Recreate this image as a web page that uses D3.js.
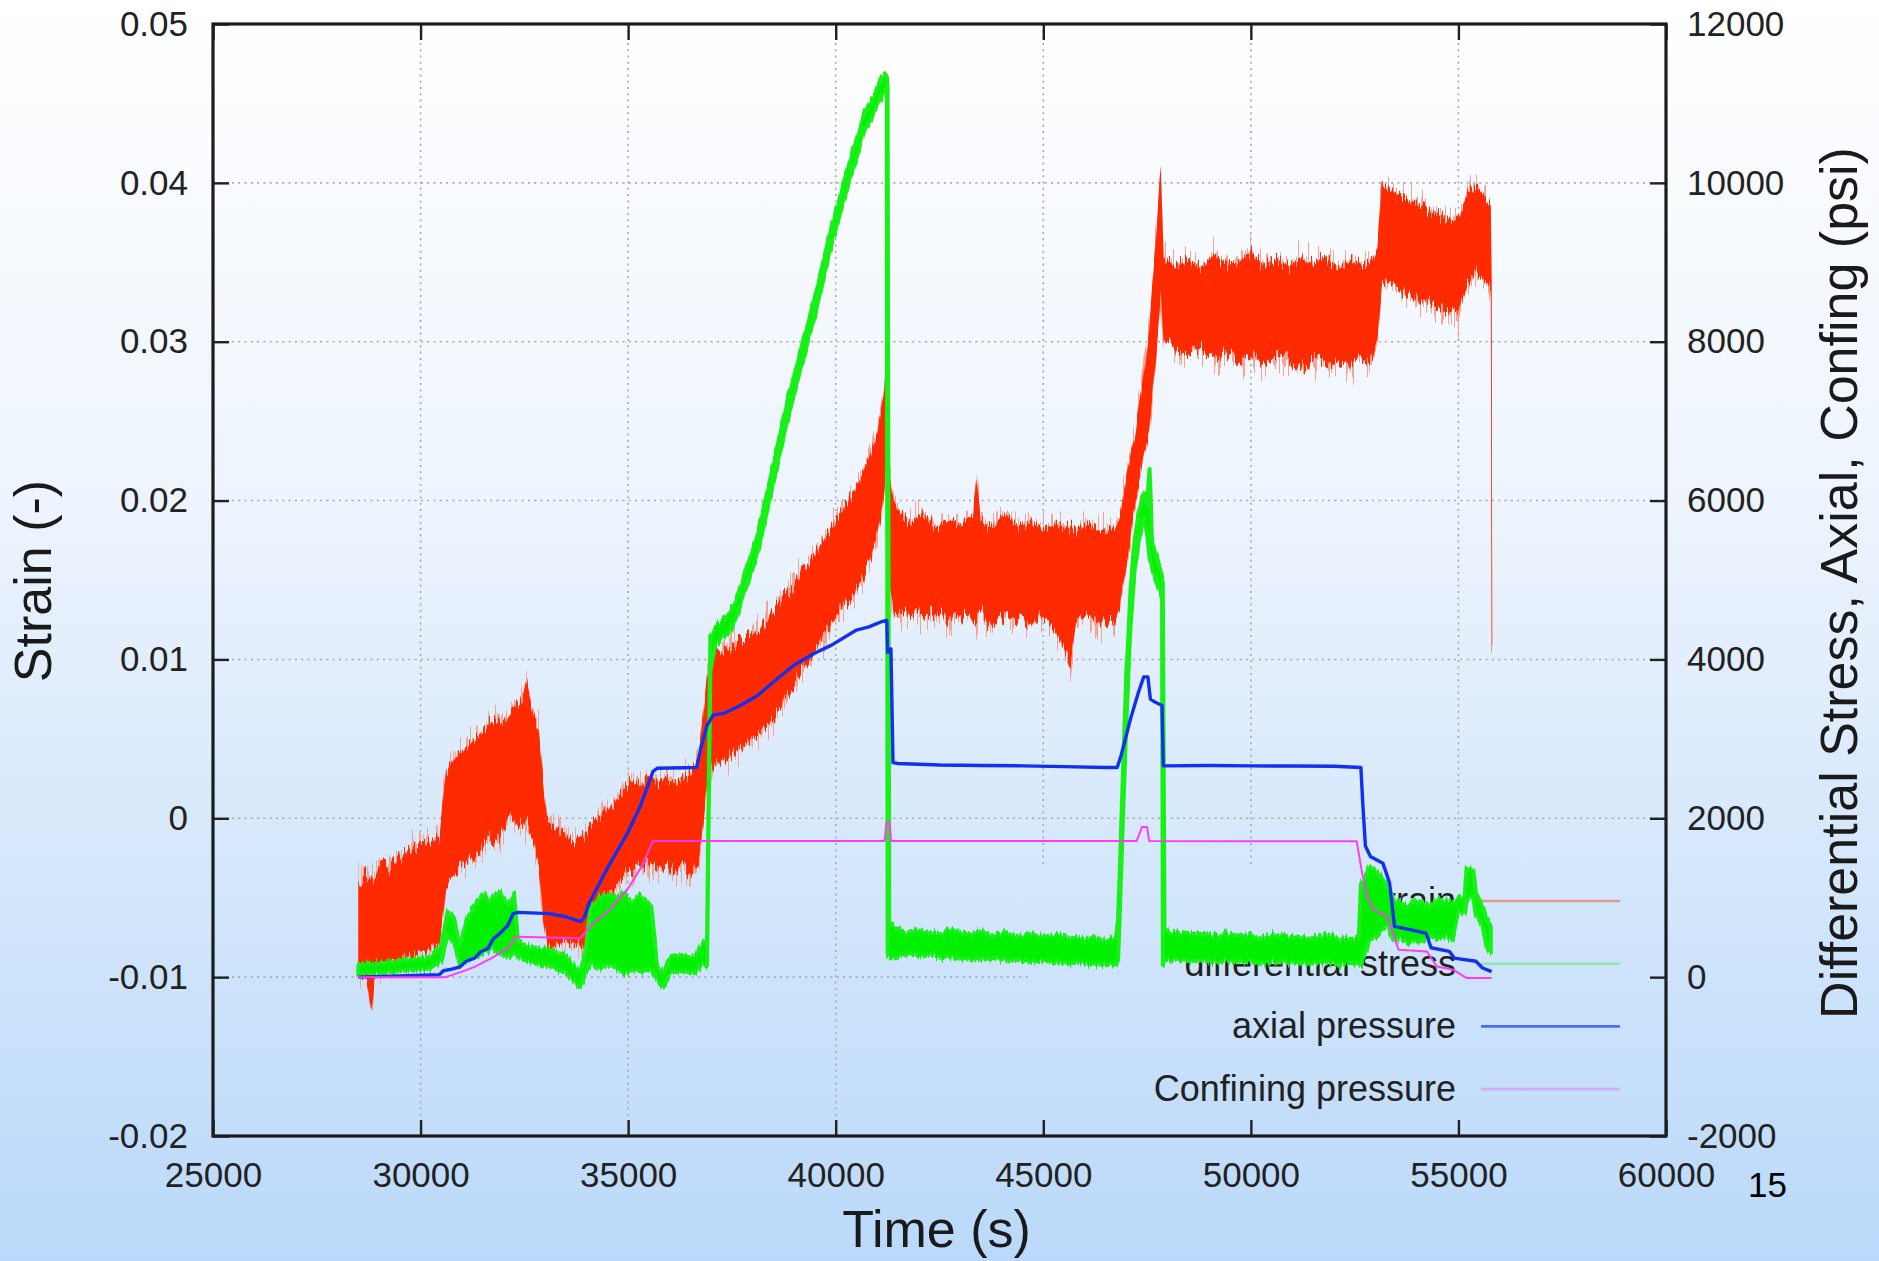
<!DOCTYPE html>
<html>
<head>
<meta charset="utf-8">
<script src="https://cdn.jsdelivr.net/npm/d3@7"></script>
<style>
  html, body { margin: 0; padding: 0; overflow: hidden; }
  svg { display: block; font-family: "Liberation Sans", Arial, Helvetica, sans-serif; }
</style>
</head>
<body>
<div class="container"></div>
<script>
// axes
const xTicks = [25000, 30000, 35000, 40000, 45000, 50000, 55000, 60000];
const yTicks = [-0.02, -0.01, 0, 0.01, 0.02, 0.03, 0.04, 0.05];
const y2Ticks = [-2000, 0, 2000, 4000, 6000, 8000, 10000, 12000];

// strain (-): [time, low edge, high edge] of the noisy band
const strainBand = [
  [28500, -0.0097, -0.0040], [28700, -0.0100, -0.0033], [28820, -0.0124, -0.0038],
  [28900, -0.0097, -0.0034], [29100, -0.0094, -0.0029], [29300, -0.0092, -0.0031],
  [29500, -0.0090, -0.0025], [29700, -0.0088, -0.0020], [29900, -0.0085, -0.0018],
  [30100, -0.0084, -0.0014], [30300, -0.0082, -0.0016], [30450, -0.0080, -0.0012],
  [30550, -0.0060, 0.0015], [30620, -0.0042, 0.0030], [30800, -0.0036, 0.0038],
  [31000, -0.0030, 0.0042], [31200, -0.0026, 0.0047], [31400, -0.0022, 0.0052],
  [31600, -0.0012, 0.0058], [31800, -0.0015, 0.0063], [32000, -0.0008, 0.0060],
  [32200, 0.0002, 0.0068], [32400, -0.0005, 0.0072], [32560, -0.0003, 0.0088],
  [32700, -0.0012, 0.0066], [32850, -0.0030, 0.0055], [32950, -0.0060, 0.0025],
  [33050, -0.0082, -0.0002], [33300, -0.0080, -0.0006], [33500, -0.0075, -0.0008],
  [33750, -0.0080, -0.0015], [33900, -0.0082, -0.0012], [34100, -0.0068, -0.0006],
  [34300, -0.0056, 0.0000], [34500, -0.0048, 0.0006], [34700, -0.0042, 0.0012],
  [34900, -0.0036, 0.0018], [35100, -0.0032, 0.0025], [35300, -0.0030, 0.0020],
  [35500, -0.0028, 0.0027], [35700, -0.0032, 0.0022], [35900, -0.0030, 0.0026],
  [36100, -0.0033, 0.0022], [36300, -0.0028, 0.0025], [36500, -0.0035, 0.0028],
  [36700, -0.0025, 0.0040], [36800, -0.0005, 0.0065], [36900, 0.0020, 0.0090],
  [37050, 0.0033, 0.0104], [37300, 0.0036, 0.0106], [37600, 0.0042, 0.0110],
  [37900, 0.0048, 0.0114], [38200, 0.0055, 0.0120], [38500, 0.0062, 0.0130],
  [38900, 0.0080, 0.0144], [39300, 0.0098, 0.0160], [39700, 0.0115, 0.0175],
  [40100, 0.0130, 0.0192], [40500, 0.0143, 0.0208], [40800, 0.0160, 0.0228],
  [41000, 0.0178, 0.0243], [41150, 0.0200, 0.0265], [41230, 0.0225, 0.0293],
  [41300, 0.0150, 0.0215], [41400, 0.0132, 0.0200],
  [41600, 0.0128, 0.0190], [41800, 0.0130, 0.0186], [42100, 0.0127, 0.0192],
  [42400, 0.0131, 0.0183], [42700, 0.0124, 0.0188], [43000, 0.0129, 0.0185],
  [43300, 0.0126, 0.0191], [43400, 0.0125, 0.0215], [43500, 0.0128, 0.0186],
  [43800, 0.0122, 0.0184], [44100, 0.0127, 0.0192], [44400, 0.0125, 0.0183],
  [44700, 0.0121, 0.0187], [45000, 0.0128, 0.0182], [45300, 0.0120, 0.0186],
  [45500, 0.0108, 0.0183], [45660, 0.0097, 0.0184], [45800, 0.0124, 0.0181],
  [46100, 0.0127, 0.0186], [46400, 0.0122, 0.0180], [46700, 0.0125, 0.0183],
  [46850, 0.0135, 0.0190], [47000, 0.0160, 0.0215], [47200, 0.0195, 0.0240],
  [47400, 0.0225, 0.0275], [47550, 0.0245, 0.0310], [47700, 0.0285, 0.0360],
  [47830, 0.0330, 0.0412], [47900, 0.0300, 0.0352], [48200, 0.0296, 0.0348],
  [48500, 0.0292, 0.0352], [48800, 0.0296, 0.0346], [49100, 0.0290, 0.0355],
  [49400, 0.0294, 0.0349], [49700, 0.0289, 0.0350], [50000, 0.0293, 0.0357],
  [50300, 0.0286, 0.0348], [50600, 0.0291, 0.0352], [50900, 0.0288, 0.0347],
  [51200, 0.0282, 0.0353], [51500, 0.0290, 0.0349], [51800, 0.0286, 0.0354],
  [52100, 0.0289, 0.0346], [52400, 0.0284, 0.0351], [52700, 0.0288, 0.0348],
  [52950, 0.0290, 0.0352], [53050, 0.0300, 0.0360], [53150, 0.0335, 0.0400],
  [53300, 0.0338, 0.0398], [53600, 0.0332, 0.0392], [53900, 0.0328, 0.0388],
  [54200, 0.0325, 0.0384], [54500, 0.0322, 0.0380], [54800, 0.0320, 0.0376],
  [55000, 0.0318, 0.0378], [55200, 0.0335, 0.0392], [55400, 0.0345, 0.0398],
  [55600, 0.0340, 0.0392], [55780, 0.0332, 0.0385], [55800, 0.0109, 0.0340],
  [55815, 0.0109, 0.0109]
];

// differential stress (psi): [time, low edge, high edge]
const stressBand = [
  [28500, 20, 150], [28800, 40, 170], [29100, 60, 190], [29400, 70, 200],
  [29700, 80, 220], [30000, 90, 230], [30300, 120, 280], [30500, 200, 400],
  [30650, 550, 850], [30800, 450, 750], [30950, 150, 400], [31100, 200, 700],
  [31300, 250, 900], [31500, 300, 1050], [31700, 350, 950], [31900, 300, 1100],
  [32100, 250, 900], [32250, 300, 1050], [32350, 250, 450], [32600, 200, 380],
  [32900, 150, 350], [33200, 120, 330], [33500, 50, 270], [33700, -50, 150],
  [33850, -130, 80], [33950, 20, 250], [34100, 200, 900], [34300, 100, 1000],
  [34500, 150, 1050], [34700, 120, 1000], [34900, 50, 1080], [35100, 100, 950],
  [35300, 60, 1020], [35550, 100, 900], [35700, -40, 150], [35850, -130, 50],
  [36000, 50, 250], [36300, 80, 280], [36600, 50, 250], [36760, 150, 400],
  [36900, 150, 450], [36980, 3880, 4270], [37100, 4180, 4420], [37300, 4270, 4480],
  [37450, 4350, 4590], [37600, 4530, 4750], [38100, 5300, 5530], [38600, 6450, 6680],
  [38900, 7150, 7380], [39200, 7750, 7980], [39500, 8340, 8560], [39880, 9190, 9410],
  [40280, 9940, 10160], [40680, 10640, 10860], [40920, 10870, 11090], [41160, 11140, 11360],
  [41230, 11080, 11320], [41250, 300, 11250], [41290, 250, 700],
  [41450, 250, 620], [41700, 300, 560], [42000, 260, 580], [42300, 280, 540],
  [42600, 240, 560], [42900, 250, 600], [43200, 230, 540], [43500, 220, 570],
  [43800, 240, 520], [44100, 210, 560], [44400, 220, 510], [44700, 190, 540],
  [45000, 210, 500], [45300, 180, 520], [45600, 170, 500], [45900, 190, 480],
  [46200, 160, 500], [46500, 170, 470], [46750, 150, 480], [46800, 200, 700],
  [46850, 900, 1500], [46920, 2000, 2600], [47000, 3200, 3800], [47100, 4400, 4900],
  [47200, 5100, 5500], [47300, 5500, 5850], [47420, 5800, 6100], [47500, 5600, 5950],
  [47560, 5300, 6400], [47620, 5150, 5500], [47750, 4950, 5250], [47860, 4750, 5050],
  [47880, 150, 5000], [47920, 200, 560], [48200, 230, 570], [48500, 200, 540],
  [48800, 220, 560], [49100, 190, 520], [49400, 210, 550], [49700, 180, 510],
  [50000, 200, 530], [50300, 170, 500], [50600, 200, 540], [50900, 180, 500],
  [51200, 190, 520], [51500, 170, 490], [51800, 190, 530], [52100, 160, 500],
  [52400, 180, 480], [52600, 170, 500], [52650, 150, 1200], [52750, 300, 1250],
  [52850, 470, 1390], [53000, 500, 1350], [53180, 600, 1230], [53300, 640, 1100],
  [53420, 450, 980], [53600, 500, 950], [53800, 430, 900], [54000, 470, 980],
  [54150, 440, 920], [54300, 520, 880], [54500, 470, 970], [54700, 500, 940],
  [54860, 480, 970], [55000, 800, 980], [55150, 800, 1000], [55200, 1000, 1390],
  [55350, 1050, 1380], [55420, 800, 1060], [55580, 640, 900], [55700, 350, 700],
  [55780, 300, 640]
];

// axial pressure (psi): [time, value]
const axialPressure = [
  [28500, 0], [30450, 30], [30550, 80], [30750, 100], [30950, 130], [31100, 200],
  [31300, 240], [31450, 320], [31620, 360], [31750, 480], [31950, 570], [32100, 650],
  [32230, 800], [32350, 815], [33100, 800], [33500, 760], [33860, 700], [33950, 760],
  [34050, 920], [34500, 1370], [35000, 1830], [35300, 2160], [35600, 2590], [35700, 2630],
  [36650, 2640], [36750, 2880], [36900, 3170], [37050, 3300], [37300, 3320], [37700, 3420],
  [38100, 3540], [38600, 3760], [39000, 3930], [39500, 4080], [39900, 4180], [40500, 4370],
  [40800, 4410], [41100, 4475], [41230, 4490], [41250, 4090], [41330, 4135], [41380, 2700],
  [41500, 2690], [42500, 2670], [43500, 2665], [44500, 2660], [45500, 2650], [46500, 2640],
  [46780, 2640], [46880, 2800], [47100, 3250], [47300, 3600], [47420, 3780], [47520, 3780],
  [47580, 3500], [47700, 3460], [47860, 3420], [47890, 2660], [49000, 2665], [50000, 2660],
  [51000, 2658], [52000, 2655], [52650, 2640], [52700, 2150], [52760, 1650], [52880, 1520],
  [53180, 1435], [53340, 1190], [53460, 640], [54220, 555], [54340, 370], [54780, 325],
  [54900, 240], [55420, 200], [55580, 115], [55800, 70]
];

// confining pressure (psi): [time, value]
const confiningPressure = [
  [28500, 0], [30600, 0], [30750, 25], [31000, 70], [31300, 130], [31700, 235],
  [32100, 360], [32300, 510], [33850, 490], [34100, 650], [34500, 820], [35000, 1115],
  [35300, 1370], [35600, 1715], [41180, 1715], [41220, 1950], [41300, 1950], [41330, 1715],
  [47250, 1715], [47380, 1890], [47500, 1890], [47550, 1715], [52550, 1710], [52680, 1310],
  [52800, 1016], [52960, 848], [53280, 764], [53560, 344], [54240, 323], [54480, 134],
  [54880, 92], [55200, -12], [55800, -12]
];

const legendLabels = ["strain", "differential stress", "axial pressure", "Confining pressure"];
const legendColors = ["#e8968a", "#8ee6b0", "#4a6ef0", "#d4aef2"];

const width = 1879;
const height = 1261;
const plotLeft = 213, plotRight = 1666, plotTop = 24, plotBottom = 1136;

const x = d3.scaleLinear().domain([25000, 60000]).range([plotLeft, plotRight]);
const y = d3.scaleLinear().domain([-0.02, 0.05]).range([plotBottom, plotTop]);
const y2 = d3.scaleLinear().domain([-2000, 12000]).range([plotBottom, plotTop]);

const svg = d3.select('.container').append('svg').attr('width', width).attr('height', height);

const defs = svg.append('defs');
const grad = defs.append('linearGradient').attr('id', 'bg')
    .attr('gradientUnits', 'userSpaceOnUse')
    .attr('x1', 0).attr('y1', 0).attr('x2', 0).attr('y2', height);
grad.append('stop').attr('offset', '0%').attr('stop-color', '#ffffff');
grad.append('stop').attr('offset', '40%').attr('stop-color', '#edf4fd');
grad.append('stop').attr('offset', '100%').attr('stop-color', '#bad9fa');

// jitter filters: shift each pixel column up/down so band edges look like a sampled noisy signal
const jitter = (id, freq, seed, amount, octaves) => {
    const f = defs.append('filter').attr('id', id)
        .attr('x', '-2%').attr('y', '-20%').attr('width', '104%').attr('height', '140%')
        .attr('color-interpolation-filters', 'sRGB');
    f.append('feTurbulence').attr('type', 'fractalNoise').attr('baseFrequency', `${freq} 0.004`)
        .attr('numOctaves', octaves).attr('seed', seed).attr('result', 'noise');
    const ct = f.append('feComponentTransfer').attr('in', 'noise').attr('result', 'shift');
    ct.append('feFuncR').attr('type', 'linear').attr('slope', 0).attr('intercept', 0.5);
    ct.append('feFuncA').attr('type', 'linear').attr('slope', 0).attr('intercept', 1);
    f.append('feDisplacementMap').attr('in', 'SourceGraphic').attr('in2', 'shift')
        .attr('scale', amount).attr('xChannelSelector', 'R').attr('yChannelSelector', 'G');
};
jitter('fringe', 0.6, 11, 85, 1);
jitter('rough', 0.55, 4, 34, 1);
jitter('roughGreen', 0.5, 9, 14, 1);

svg.append('rect').attr('width', width).attr('height', height).attr('fill', 'url(#bg)');
svg.append('rect').attr('x', 1222).attr('y', 0).attr('width', 362).attr('height', 3).attr('fill', '#ffffff');

// dotted grid
const grid = svg.append('g').attr('class', 'grid')
    .attr('stroke', '#a9a9a9').attr('stroke-width', 1.6).attr('stroke-dasharray', '2,4.3');
grid.selectAll('.gx').data(xTicks.slice(1, -1)).enter().append('line')
    .attr('x1', d => x(d)).attr('x2', d => x(d)).attr('y1', plotTop).attr('y2', plotBottom);
grid.selectAll('.gy').data(yTicks.slice(1, -1)).enter().append('line')
    .attr('x1', plotLeft).attr('x2', plotRight).attr('y1', d => y(d)).attr('y2', d => y(d));

// key area hides the grid
svg.append('rect').attr('x', 1031).attr('y', 868).attr('width', plotRight - 1031).attr('height', plotBottom - 868)
    .attr('fill', 'url(#bg)');

// legend (drawn below the data, as in the original)
const legend = svg.append('g').attr('class', 'legend');
legendLabels.forEach((label, i) => {
    const ly = 901 + i * 62.7;
    legend.append('text').attr('x', 1456).attr('y', ly + 12).attr('text-anchor', 'end')
        .attr('font-size', 36).attr('fill', '#222').text(label);
    legend.append('line').attr('x1', 1481).attr('x2', 1620).attr('y1', ly).attr('y2', ly)
        .attr('stroke', legendColors[i]).attr('stroke-width', 2.6);
});

const series = svg.append('g').attr('class', 'series');

const strainArea = d3.area().x(d => x(d[0])).y0(d => y(d[1])).y1(d => y(d[2]));
series.append('path').datum(strainBand).attr('d', strainArea)
    .attr('fill', '#f2a497').attr('filter', 'url(#fringe)');
series.append('path').datum(strainBand).attr('d', strainArea)
    .attr('fill', '#ff2a00').attr('filter', 'url(#rough)');

const stressArea = d3.area().x(d => x(d[0])).y0(d => y2(d[1])).y1(d => y2(d[2]));
series.append('path').datum(stressBand).attr('d', stressArea)
    .attr('fill', '#00f000').attr('stroke', '#18f018').attr('stroke-width', 4)
    .attr('stroke-linejoin', 'round').attr('filter', 'url(#roughGreen)');

const pressureLine = d3.line().x(d => x(d[0])).y(d => y2(d[1]));
series.append('path').datum(axialPressure).attr('d', pressureLine)
    .attr('fill', 'none').attr('stroke', '#1330ee').attr('stroke-width', 3.4).attr('stroke-linejoin', 'round');
series.append('path').datum(confiningPressure).attr('d', pressureLine)
    .attr('fill', 'none').attr('stroke', '#ff3cf5').attr('stroke-width', 2).attr('stroke-linejoin', 'round');

// axes, ticks pointing inward
const fmtStrain = d => d === 0 ? "0" : d.toFixed(2);
const styleAxis = g => {
    g.select('.domain').remove();
    g.selectAll('.tick line').attr('stroke', '#222').attr('stroke-width', 2.4);
    g.selectAll('.tick text').attr('font-size', 35).attr('fill', '#222')
        .attr('font-family', '"Liberation Sans", Arial, sans-serif');
};

svg.append('g').attr('transform', `translate(0,${plotBottom})`)
    .call(d3.axisBottom(x).tickValues(xTicks).tickFormat(d3.format('d')).tickSize(-16).tickPadding(26))
    .call(styleAxis);
svg.append('g').attr('transform', `translate(0,${plotTop})`)
    .call(d3.axisTop(x).tickValues(xTicks).tickFormat('').tickSize(-16))
    .call(styleAxis);
svg.append('g').attr('transform', `translate(${plotLeft},0)`)
    .call(d3.axisLeft(y).tickValues(yTicks).tickFormat(fmtStrain).tickSize(-16).tickPadding(25))
    .call(styleAxis);
svg.append('g').attr('transform', `translate(${plotRight},0)`)
    .call(d3.axisRight(y2).tickValues(y2Ticks).tickFormat(d => String(d)).tickSize(-16).tickPadding(21))
    .call(styleAxis);

svg.append('rect').attr('x', plotLeft).attr('y', plotTop).attr('width', plotRight - plotLeft).attr('height', plotBottom - plotTop)
    .attr('fill', 'none').attr('stroke', '#1c1c1c').attr('stroke-width', 3.2);

// titles
svg.append('text').attr('x', (plotLeft + plotRight) / 2 - 3).attr('y', 1247).attr('text-anchor', 'middle')
    .attr('font-size', 52).attr('fill', '#1a1a1a').text('Time (s)');
svg.append('text').attr('transform', 'translate(51,581) rotate(-90)').attr('text-anchor', 'middle')
    .attr('font-size', 52).attr('fill', '#1a1a1a').text('Strain (-)');
svg.append('text').attr('transform', 'translate(1857,583) rotate(-90)').attr('text-anchor', 'middle')
    .attr('font-size', 52).attr('fill', '#1a1a1a').text('Differential Stress, Axial, Confing (psi)');

svg.append('text').attr('x', 1748).attr('y', 1197).attr('font-size', 35).attr('fill', '#000').text('15');
</script>
</body>
</html>
